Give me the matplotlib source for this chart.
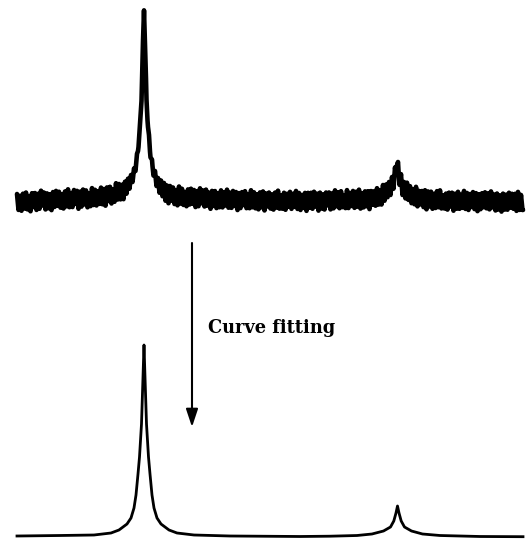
import numpy as np
import matplotlib
matplotlib.use("Agg")
import matplotlib.pyplot as plt

meas_env_x = [17, 54, 94, 114, 124, 130, 133, 135.5, 138, 140, 141.5, 143, 144,
              145, 146.5, 148, 150, 152.5, 155, 158, 164, 174, 194, 234, 300,
              352, 372, 383, 389, 392, 395.5, 397, 398.5, 402, 405, 411, 422, 442, 523]
meas_env_y = [0, 2, 4, 8, 12, 20, 26, 35, 52, 76, 102, 160, 192,
              160, 102, 76, 52, 35, 26, 18, 11, 6, 4, 2, 1,
              2, 3, 7, 12, 18, 28, 37, 28, 18, 12, 7, 3, 1.5, 0]

# noise on the measured trace, sampled every 1.5 channels from 17 to 522.5
noise_start, noise_stop, noise_step = 17, 523.5, 1.5
meas_noise = [
    8, -8, 6, -9, 8, -7, 9, -8, 5, -10, 8, -6, 8,
    -9, 7, -8, 10, -5, 8, -9, 7, -8, 6, -10, 8, -7,
    9, -6, 8, -8, 5, -9, 8, -7, 10, -8, 6, -8, 9,
    -5, 8, -10, 7, -8, 9, -6, 8, -9, 5, -8, 10, -7,
    8, -8, 6, -7, 9, -8, 7, -10, 8, -6, 8, -9, 5,
    -8, 10, -7, 8, -8, 6, -9, 7, -7, 6, -6, 5, -5,
    4, -4, 3, -3, 2, -1, 1, -1, 2, -3, 3, -4, 4,
    -5, 5, -6, 6, -7, 7, -7, 8, -9, 7, -10, 8, -6,
    8, -8, 6, -9, 10, -7, 8, -8, 5, -9, 8, -7, 9,
    -6, 8, -9, 7, -8, 10, -5, 8, -8, 9, -7, 6, -10,
    8, -7, 8, -9, 6, -8, 9, -8, 7, -6, 10, -8, 7,
    -8, 9, -6, 8, -10, 7, -8, 8, -5, 9, -8, 6, -8,
    10, -7, 8, -8, 6, -9, 8, -7, 9, -10, 7, -6, 8,
    -8, 6, -9, 8, -7, 10, -8, 5, -8, 8, -9, 7, -6,
    9, -8, 7, -6, 10, -8, 8, -9, 6, -7, 8, -10, 8,
    -7, 8, -8, 9, -6, 7, -10, 8, -8, 6, -9, 8, -5,
    8, -9, 7, -8, 10, -6, 8, -8, 9, -7, 5, -8, 10,
    -8, 7, -6, 9, -8, 8, -7, 10, -9, 6, -8, 8, -7,
    8, -10, 8, -6, 7, -8, 9, -8, 6, -9, 10, -7, 8,
    -6, 8, -8, 7, -9, 8, -5, 9, -8, 7, -10, 6, -8,
    9, -7, 8, -8, 6, -8, 10, -9, 7, -6, 8, -8, 9,
    -10, 8, -7, 8, -9, 6, -8, 9, -7, 10, -8, 5, -8,
    7, -9, 8, -6, 8, -10, 7, -8, 9, -8, 6, -7, 10,
    -8, 8, -9, 7, -6, 9, -8, 8, -10, 7, -8, 8, -6,
    9, -7, 8, -8, 10, -6, 7, -9, 8, -8, 6, -10, 8,
    -8, 7, -8, 9, -6, 8, -7, 8, -9, 10, -8, 7, -8,
]

# ---- fitted spectrum ----
fit_x = [17, 60, 94, 111, 119, 127, 131, 134, 136, 138, 139.5, 141.5, 143, 144,
         145, 146.5, 148.5, 150, 152, 154, 157, 161, 169, 177, 194, 230, 300,
         330, 357, 372, 383.5, 390.5, 393.8, 396, 397.5, 399, 401.2, 404.5,
         411.5, 422.5, 440, 480, 523]
fit_y = [1, 1.5, 2, 4, 7, 13, 19, 29, 42, 63, 80, 113, 160, 192,
         160, 113, 80, 63, 42, 29, 19, 13, 7, 4, 2, 1, 0.5,
         0.8, 1.5, 3, 6, 10, 16, 24, 31, 24, 16, 10,
         6, 3, 1.5, 0.5, 0.3]

label_text = "Curve fitting"

fig = plt.figure(figsize=(5.27, 5.40), dpi=100)
fig.patch.set_facecolor("white")

# top axes: measured spectrum
ax_top = fig.add_axes([0, 0, 1, 1])
ax_top.set_xlim(0, 527)
ax_top.set_ylim(-338, 202)
ax_top.axis("off")

noise_x = np.arange(noise_start, noise_stop, noise_step)[:len(meas_noise)]
x_all = np.union1d(noise_x, np.array(meas_env_x, dtype=float))
y_all = np.interp(x_all, meas_env_x, meas_env_y) + np.interp(x_all, noise_x, meas_noise)
ax_top.plot(x_all, y_all, color="black", lw=3.3, solid_joinstyle="round",
            solid_capstyle="round")

# bottom axes: fitted spectrum
ax_bot = fig.add_axes([0, 0, 1, 1])
ax_bot.set_xlim(0, 527)
ax_bot.set_ylim(-3, 537)
ax_bot.axis("off")
ax_bot.patch.set_alpha(0)
ax_bot.plot(fit_x, fit_y, color="black", lw=2.0, solid_joinstyle="round")

# arrow and label
ax_bot.annotate("", xy=(192, 110), xytext=(192, 294),
                arrowprops=dict(arrowstyle="-|>,head_length=0.9,head_width=0.3",
                                mutation_scale=12, color="black", lw=1.5,
                                shrinkA=0, shrinkB=0))
ax_bot.text(208, 204, label_text, fontsize=12.8, fontweight="bold",
            family="DejaVu Serif", ha="left", va="baseline", color="black")

fig.savefig("out.png", dpi=100, facecolor="white")
